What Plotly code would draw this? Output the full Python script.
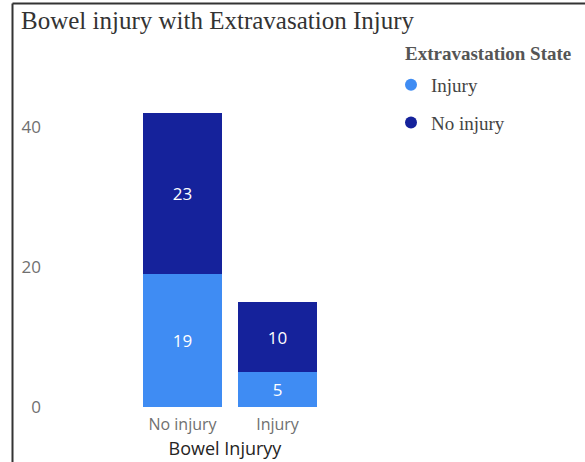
import plotly.graph_objects as go

categories = ["No injury", "Injury"]
injury_vals = [19, 5]
no_injury_vals = [23, 10]
series_names = ["Injury", "No injury"]
colors = ["#3F8CF3", "#15229B"]
y_ticks = [0, 20, 40]

W, H = 585, 462
ml, mr, mt, mb = 50, 185, 57, 55
pw = W - ml - mr
ph = H - mt - mb

def fx(px):
    return (px - ml) / pw

def fy(py):
    return (H - mb - py) / ph

fig = go.Figure()
for name, vals, col in zip(series_names, [injury_vals, no_injury_vals], colors):
    fig.add_trace(go.Bar(
        x=categories, y=vals, name=name, marker=dict(color=col, line=dict(width=0)),
        text=vals, textposition="inside", insidetextanchor="middle",
        textfont=dict(color="white", size=17, family="Open Sans"),
        showlegend=False, width=0.83,
    ))
for i, (name, col) in enumerate(zip(series_names, colors)):
    fig.add_trace(go.Scatter(
        x=[None], y=[None], mode="markers", name=name, legendgroup=f"g{i}",
        marker=dict(symbol="circle", size=15, color=col),
    ))

cat_w = 95.0
c0 = 182.5
fig.update_layout(
    width=W, height=H,
    margin=dict(l=ml, r=mr, t=mt, b=mb, autoexpand=False),
    barmode="stack",
    plot_bgcolor="white", paper_bgcolor="white",
    title=dict(text="Bowel injury with Extravasation Injury", x=21 / W, xref="container",
               xanchor="left", y=1 - 20 / H, yref="container", yanchor="middle",
               font=dict(family="Liberation Serif", size=25, color="#333333")),
    xaxis=dict(range=[-(c0 - ml) / cat_w, (ml + pw - c0) / cat_w], automargin=False,
               showgrid=False, zeroline=False, showline=False, ticks="",
               ticklabelstandoff=6,
               tickfont=dict(family="Open Sans", size=16, color="#707070"),
               title=dict(text="Bowel Injuryy", standoff=8,
                          font=dict(family="Open Sans", size=18, color="#252423"))),
    yaxis=dict(range=[0, 50], tickvals=y_ticks, showgrid=False, zeroline=False, automargin=False,
               showline=False, ticks="", ticklabelstandoff=8,
               tickfont=dict(family="Open Sans", size=17, color="#707070")),
    legend=dict(x=fx(391), xanchor="left", y=fy(66), yanchor="top",
                font=dict(family="Liberation Serif", size=19, color="#444444"),
                tracegroupgap=10, itemsizing="constant"),
    annotations=[
        dict(text="<b>Extravastation State</b>", xref="paper", yref="paper",
             x=fx(403), y=fy(53), xanchor="left", yanchor="middle", showarrow=False,
             font=dict(family="Liberation Serif", size=19, color="#555555")),
    ],
    shapes=[
        dict(type="line", xref="paper", yref="paper", x0=fx(12.5), x1=fx(585), y0=fy(3.5), y1=fy(3.5),
             line=dict(color="#333333", width=2)),
        dict(type="line", xref="paper", yref="paper", x0=fx(12.5), x1=fx(12.5), y0=fy(3.5), y1=fy(462),
             line=dict(color="#333333", width=2)),
    ],
)

fig.write_html("out.html")
